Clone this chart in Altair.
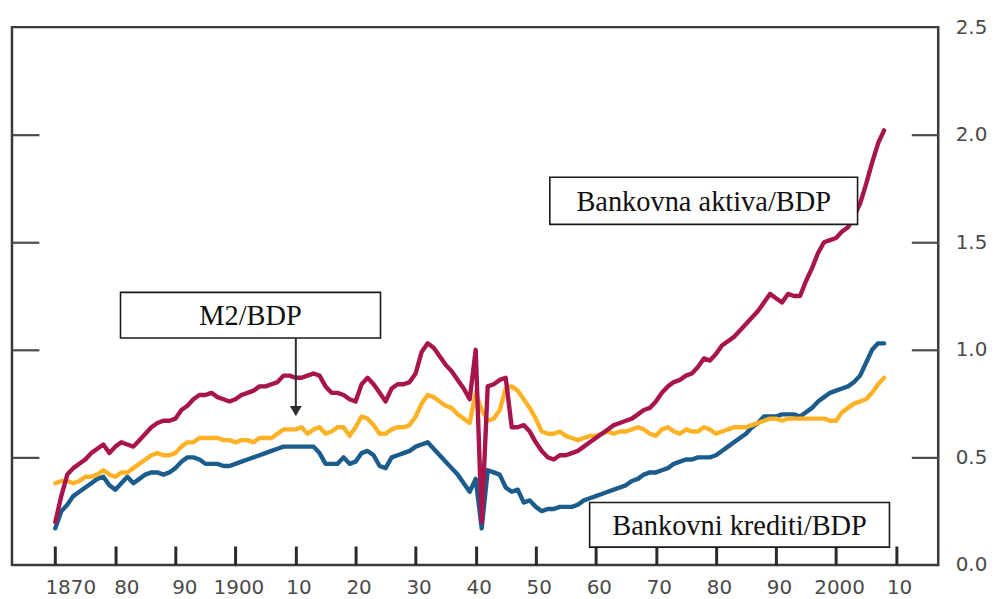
import altair as alt
import pandas as pd

years = list(range(1870, 2009))

assets = [
    0.20, 0.32, 0.42, 0.45, 0.47, 0.49, 0.52, 0.54, 0.56, 0.52,
    0.55, 0.57, 0.56, 0.55, 0.58, 0.61, 0.64, 0.66, 0.67, 0.67,
    0.68, 0.72, 0.74, 0.77, 0.79, 0.79, 0.80, 0.78, 0.77, 0.76,
    0.77, 0.79, 0.80, 0.81, 0.83, 0.83, 0.84, 0.85, 0.88, 0.88,
    0.87, 0.87, 0.88, 0.89, 0.88, 0.83, 0.80, 0.80, 0.79, 0.77,
    0.76, 0.84, 0.87, 0.84, 0.80, 0.76, 0.82, 0.84, 0.84, 0.85,
    0.89, 0.99, 1.03, 1.01, 0.97, 0.93, 0.90, 0.86, 0.82, 0.77,
    1.00, 0.20, 0.83, 0.84, 0.86, 0.87, 0.64, 0.64, 0.65, 0.62,
    0.57, 0.53, 0.50, 0.49, 0.51, 0.51, 0.52, 0.53, 0.55, 0.57,
    0.59, 0.61, 0.63, 0.65, 0.66, 0.67, 0.68, 0.70, 0.72, 0.73,
    0.76, 0.80, 0.83, 0.85, 0.86, 0.88, 0.89, 0.92, 0.96, 0.95,
    0.98, 1.02, 1.04, 1.06, 1.09, 1.12, 1.15, 1.18, 1.22, 1.26,
    1.24, 1.22, 1.26, 1.25, 1.25, 1.32, 1.38, 1.45, 1.50, 1.51,
    1.52, 1.55, 1.57, 1.62, 1.68, 1.77, 1.87, 1.96, 2.02,
]

loans = [
    0.17, 0.25, 0.28, 0.32, 0.34, 0.36, 0.38, 0.40, 0.41, 0.37,
    0.35, 0.38, 0.41, 0.38, 0.40, 0.42, 0.43, 0.43, 0.42, 0.43,
    0.45, 0.48, 0.50, 0.50, 0.49, 0.47, 0.47, 0.47, 0.46, 0.46,
    0.47, 0.48, 0.49, 0.50, 0.51, 0.52, 0.53, 0.54, 0.55, 0.55,
    0.55, 0.55, 0.55, 0.55, 0.52, 0.47, 0.47, 0.47, 0.50, 0.47,
    0.48, 0.52, 0.53, 0.51, 0.46, 0.45, 0.50, 0.51, 0.52, 0.53,
    0.55, 0.56, 0.57, 0.54, 0.51, 0.48, 0.45, 0.42, 0.38, 0.34,
    0.40, 0.17, 0.44, 0.43, 0.42, 0.36, 0.34, 0.35, 0.29, 0.30,
    0.27, 0.25, 0.26, 0.26, 0.27, 0.27, 0.27, 0.28, 0.30, 0.31,
    0.32, 0.33, 0.34, 0.35, 0.36, 0.37, 0.39, 0.40, 0.42, 0.43,
    0.43, 0.44, 0.45, 0.47, 0.48, 0.49, 0.49, 0.50, 0.50, 0.50,
    0.51, 0.53, 0.55, 0.57, 0.59, 0.61, 0.64, 0.66, 0.69, 0.69,
    0.69, 0.70, 0.70, 0.70, 0.69, 0.71, 0.73, 0.76, 0.78, 0.80,
    0.81, 0.82, 0.83, 0.85, 0.88, 0.94, 1.00, 1.03, 1.03,
]

m2 = [
    0.38, 0.39, 0.39, 0.38, 0.39, 0.41, 0.41, 0.42, 0.44, 0.42,
    0.41, 0.43, 0.43, 0.45, 0.47, 0.49, 0.51, 0.52, 0.51, 0.51,
    0.52, 0.55, 0.57, 0.57, 0.59, 0.59, 0.59, 0.59, 0.58, 0.58,
    0.57, 0.58, 0.58, 0.57, 0.59, 0.59, 0.59, 0.61, 0.63, 0.63,
    0.63, 0.64, 0.61, 0.63, 0.64, 0.61, 0.62, 0.64, 0.64, 0.60,
    0.64, 0.69, 0.68, 0.65, 0.61, 0.61, 0.63, 0.64, 0.64, 0.65,
    0.69, 0.75, 0.79, 0.78, 0.76, 0.74, 0.73, 0.70, 0.68, 0.66,
    0.80, 0.72, 0.67, 0.68, 0.72, 0.82, 0.83, 0.81, 0.77, 0.73,
    0.68, 0.62, 0.61, 0.61, 0.62, 0.60, 0.59, 0.58, 0.59, 0.60,
    0.60, 0.61, 0.62, 0.61, 0.62, 0.62, 0.63, 0.64, 0.63, 0.61,
    0.60, 0.63, 0.64, 0.62, 0.61, 0.63, 0.62, 0.62, 0.64, 0.63,
    0.61, 0.62, 0.63, 0.64, 0.64, 0.64, 0.65, 0.66, 0.67, 0.68,
    0.68, 0.67, 0.68, 0.68, 0.68, 0.68, 0.68, 0.68, 0.68, 0.67,
    0.67, 0.71, 0.73, 0.75, 0.76, 0.77, 0.80, 0.84, 0.87,
]

x_ticks = list(range(1870, 2011, 10))
y_label_ticks = [0.0, 0.5, 1.0, 1.5, 2.0, 2.5]
y_inner_ticks = [0.5, 1.0, 1.5, 2.0]

box_labels = ["M2/BDP", "Bankovna aktiva/BDP", "Bankovni krediti/BDP"]
box_x1 = [1880.86, 1952.34, 1958.97]
box_x2 = [1924.15, 2003.58, 2008.89]
box_y1 = [1.055, 1.583, 0.083]
box_y2 = [1.267, 1.802, 0.290]

arrow_year = [1910.05]
arrow_from = [1.055]
arrow_to = [0.715]

BLUE = "#1B5C8C"
ORANGE = "#FDB124"
CRIMSON = "#A8144C"
LABEL = "#4a4a4a"

df = pd.DataFrame({"year": years, "assets": assets, "loans": loans, "m2": m2})
boxes = pd.DataFrame({
    "label": box_labels,
    "x1": box_x1, "x2": box_x2, "y1": box_y1, "y2": box_y2,
})
boxes["xc"] = (boxes["x1"] + boxes["x2"]) / 2
boxes["yc"] = (boxes["y1"] + boxes["y2"]) / 2
arrow = pd.DataFrame({"ax": arrow_year, "a1": arrow_from, "a2": arrow_to})

xs = alt.Scale(domain=[1862.79, 2017.01], nice=False, zero=False)
ys = alt.Scale(domain=[0, 2.5], nice=False, zero=True)

label_expr = ("(datum.value == 1870 || datum.value % 100 == 0) ? format(datum.value, 'd') "
              ": slice(format(datum.value, 'd'), 2)")

x_label_axis = alt.Axis(
    orient="bottom", values=x_ticks, ticks=False, domain=False, grid=False,
    labelExpr=label_expr, labelFont="DejaVu Sans", labelFontSize=20, labelColor=LABEL,
    labelPadding=13, labelOverlap=False, labelFlush=False, labelBound=False, title=None,
    labelOffset={"condition": [
        {"test": "datum.value == 1870", "value": 15},
        {"test": "datum.value == 1880", "value": 11},
        {"test": "datum.value == 1890", "value": 9},
    ], "value": 3},
)
x_tick_axis = alt.Axis(
    orient="top", offset=-540, values=x_ticks, labels=False, domain=False, grid=False,
    ticks=True, tickSize=19, tickWidth=3, tickColor="#2a2a2a", title=None,
)
y_label_axis = alt.Axis(
    orient="right", values=y_label_ticks, ticks=False, domain=False, grid=False,
    format=".1f", labelFont="DejaVu Sans", labelFontSize=20, labelColor=LABEL,
    labelPadding=17, labelOverlap=False, labelFlush=False, labelBound=False, title=None,
)
y_tick_right = alt.Axis(
    orient="left", offset=-930, values=y_inner_ticks, labels=False, domain=False,
    grid=False, ticks=True, tickSize=27, tickWidth=2.2, tickColor="#4a4a4a", title=None,
)
y_tick_left = alt.Axis(
    orient="right", offset=-930, values=y_inner_ticks, labels=False, domain=False,
    grid=False, ticks=True, tickSize=27, tickWidth=2.2, tickColor="#4a4a4a", title=None,
)

line_style = dict(strokeWidth=4.4, strokeJoin="round", strokeCap="round")

loans_line = alt.Chart(df).mark_line(color=BLUE, **line_style).encode(
    x=alt.X("year:Q", scale=xs, axis=x_label_axis),
    y=alt.Y("loans:Q", scale=ys, axis=y_label_axis),
)
m2_line = alt.Chart(df).mark_line(color=ORANGE, **line_style).encode(
    x=alt.X("year:Q", scale=xs, axis=x_tick_axis),
    y=alt.Y("m2:Q", scale=ys, axis=y_tick_right),
)
assets_line = alt.Chart(df).mark_line(color=CRIMSON, **line_style).encode(
    x=alt.X("year:Q", scale=xs, axis=None),
    y=alt.Y("assets:Q", scale=ys, axis=y_tick_left),
)

box_rect = alt.Chart(boxes).mark_rect(fill="white", stroke="#1a1a1a", strokeWidth=1.6).encode(
    x=alt.X("x1:Q", scale=xs, axis=None), x2="x2:Q",
    y=alt.Y("y1:Q", scale=ys, axis=None), y2="y2:Q",
)
box_text = alt.Chart(boxes).mark_text(
    font="Liberation Serif", fontSize=28.5, color="#111111", align="center", baseline="middle", dy=1,
).encode(
    x=alt.X("xc:Q", scale=xs, axis=None),
    y=alt.Y("yc:Q", scale=ys, axis=None),
    text="label:N",
)
arrow_shaft = alt.Chart(arrow).mark_rule(color="#2e2e2e", strokeWidth=2).encode(
    x=alt.X("ax:Q", scale=xs, axis=None),
    y=alt.Y("a1:Q", scale=ys, axis=None), y2="a2:Q",
)
arrow_head = alt.Chart(arrow).mark_point(
    shape="triangle-down", filled=True, size=140, color="#2e2e2e", opacity=1,
).encode(
    x=alt.X("ax:Q", scale=xs, axis=None),
    y=alt.Y("a2:Q", scale=ys, axis=None),
)

chart = alt.layer(
    loans_line, m2_line, assets_line, box_rect, box_text, arrow_shaft, arrow_head
).resolve_scale(x="shared", y="shared").resolve_axis(
    x="independent", y="independent"
).properties(
    width=930, height=540,
    padding={"left": 4, "top": 18, "right": 55, "bottom": 33},
    autosize=alt.AutoSizeParams(type="none"),
).configure_view(stroke="#3a3a3a", strokeWidth=2.5)

chart.save("out.html", embed_options={"renderer": "svg", "actions": False})
